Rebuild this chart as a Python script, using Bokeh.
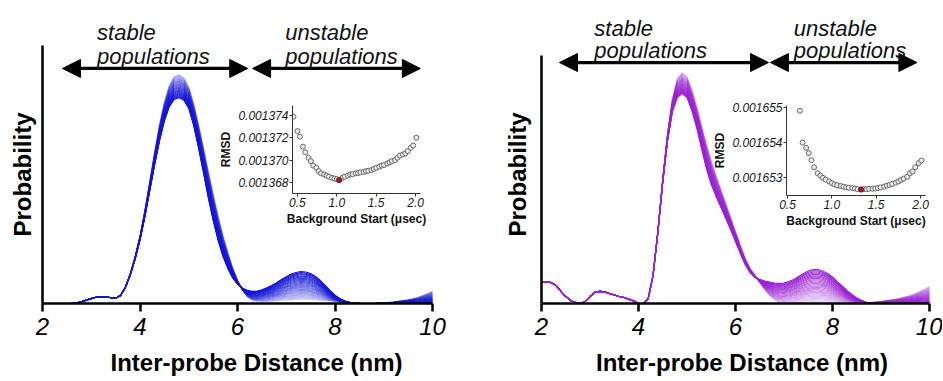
import numpy as np
from bokeh.plotting import figure
from bokeh.models import (Range1d, FixedTicker, Arrow, NormalHead, Label,
                          ColumnDataSource, PrintfTickFormatter)
from bokeh.layouts import row
from bokeh.embed import file_html
from bokeh.resources import INLINE

FONT = "Liberation Sans"

# ---------------- data ----------------
distance_nm = [2.0, 2.1, 2.2, 2.3, 2.4, 2.5, 2.6, 2.7, 2.8, 2.9,
               3.0, 3.1, 3.2, 3.3, 3.4, 3.5, 3.6, 3.7, 3.8, 3.9,
               4.0, 4.1, 4.2, 4.3, 4.4, 4.5, 4.6, 4.7, 4.8, 4.9,
               5.0, 5.1, 5.2, 5.3, 5.4, 5.5, 5.6, 5.7, 5.8, 5.9,
               6.0, 6.1, 6.2, 6.3, 6.4, 6.5, 6.6, 6.7, 6.8, 6.9,
               7.0, 7.1, 7.2, 7.3, 7.4, 7.5, 7.6, 7.7, 7.8, 7.9,
               8.0, 8.1, 8.2, 8.3, 8.4, 8.5, 8.6, 8.7, 8.8, 8.9,
               9.0, 9.1, 9.2, 9.3, 9.4, 9.5, 9.6, 9.7, 9.8, 9.9, 10.0]

# left panel: extreme distributions of the family (earliest / latest background start)
left_dist_first = [0, 0, 0, 0, 0, 0, 0.001, 0.003, 0.007, 0.013,
                   0.019, 0.024, 0.027, 0.026, 0.022, 0.020, 0.031, 0.062, 0.110, 0.172,
                   0.246, 0.336, 0.436, 0.537, 0.630, 0.707, 0.762, 0.791, 0.798, 0.788,
                   0.756, 0.690, 0.603, 0.508, 0.410, 0.322, 0.246, 0.183, 0.136, 0.099,
                   0.075, 0.059, 0.051, 0.047, 0.048, 0.053, 0.061, 0.070, 0.081, 0.093,
                   0.104, 0.114, 0.120, 0.124, 0.122, 0.116, 0.105, 0.089, 0.070, 0.050,
                   0.032, 0.019, 0.010, 0.004, 0.001, 0, 0, 0, 0, 0,
                   0, 0, 0, 0, 0, 0, 0, 0, 0, 0, 0]
left_dist_last = [0, 0, 0, 0, 0, 0, 0.001, 0.003, 0.007, 0.013,
                  0.019, 0.024, 0.027, 0.026, 0.022, 0.020, 0.031, 0.063, 0.115, 0.182,
                  0.262, 0.362, 0.474, 0.588, 0.694, 0.782, 0.845, 0.880, 0.888, 0.875,
                  0.840, 0.776, 0.696, 0.607, 0.515, 0.426, 0.342, 0.266, 0.200, 0.140,
                  0.090, 0.052, 0.026, 0.013, 0.009, 0.008, 0.008, 0.009, 0.011, 0.013,
                  0.014, 0.015, 0.016, 0.017, 0.017, 0.016, 0.015, 0.013, 0.012, 0.010,
                  0.008, 0.006, 0.004, 0.003, 0.002, 0.001, 0, 0, 0, 0.001,
                  0.002, 0.004, 0.006, 0.009, 0.012, 0.015, 0.019, 0.024, 0.031, 0.039, 0.047]

# right panel
right_dist_first = [0.081, 0.085, 0.081, 0.070, 0.047, 0.027, 0.012, 0.004, 0.000, 0.008,
                    0.027, 0.043, 0.047, 0.045, 0.039, 0.033, 0.027, 0.023, 0.017, 0.010,
                    0.000, 0.000, 0.019, 0.109, 0.275, 0.469, 0.632, 0.744, 0.798, 0.814,
                    0.798, 0.748, 0.682, 0.601, 0.523, 0.461, 0.415, 0.372, 0.329, 0.287,
                    0.240, 0.194, 0.151, 0.120, 0.101, 0.093, 0.087, 0.083, 0.079, 0.078,
                    0.079, 0.085, 0.093, 0.105, 0.116, 0.126, 0.132, 0.132, 0.126, 0.116,
                    0.103, 0.085, 0.068, 0.050, 0.035, 0.021, 0.012, 0.004, 0, 0,
                    0, 0, 0, 0, 0, 0, 0, 0, 0, 0, 0]
right_dist_last = [0.081, 0.085, 0.081, 0.070, 0.047, 0.027, 0.012, 0.004, 0.000, 0.008,
                   0.027, 0.043, 0.047, 0.045, 0.039, 0.033, 0.027, 0.023, 0.017, 0.010,
                   0.000, 0.000, 0.019, 0.109, 0.283, 0.484, 0.663, 0.795, 0.872, 0.895,
                   0.880, 0.829, 0.764, 0.690, 0.620, 0.554, 0.496, 0.442, 0.388, 0.333,
                   0.279, 0.225, 0.174, 0.136, 0.109, 0.081, 0.054, 0.031, 0.014, 0.004,
                   0.002, 0.003, 0.004, 0.005, 0.006, 0.007, 0.008, 0.008, 0.008, 0.007,
                   0.006, 0.005, 0.004, 0.003, 0.002, 0.002, 0.002, 0.003, 0.004, 0.006,
                   0.008, 0.011, 0.014, 0.017, 0.021, 0.026, 0.031, 0.038, 0.047, 0.056, 0.066]

# position of each plotted distribution between the first and the last one
family_levels = [0.0, 0.04, 0.08, 0.12, 0.16, 0.20, 0.24, 0.28, 0.32, 0.36,
                 0.40, 0.44, 0.48, 0.52, 0.56, 0.60, 0.64, 0.68, 0.72, 0.76,
                 0.80, 0.84, 0.88, 0.92, 0.96, 1.0]

# insets: RMSD vs background start
left_bg_start = [0.45, 0.50, 0.53, 0.57, 0.60, 0.64, 0.67, 0.70, 0.74, 0.77,
                 0.80, 0.84, 0.87, 0.90, 0.94, 0.97, 1.00, 1.03, 1.07, 1.10,
                 1.14, 1.17, 1.20, 1.24, 1.27, 1.30, 1.34, 1.37, 1.40, 1.44,
                 1.47, 1.50, 1.54, 1.57, 1.60, 1.64, 1.67, 1.70, 1.74, 1.77,
                 1.80, 1.84, 1.87, 1.90, 1.94, 1.97, 2.01]
left_rmsd = [0.0013739, 0.0013726, 0.0013721, 0.0013712, 0.0013707, 0.0013702,
             0.0013699, 0.0013695, 0.0013693, 0.0013690, 0.0013688, 0.0013687,
             0.0013686, 0.0013685, 0.0013684, 0.00136833, 0.00136828, 0.0013682,
             0.0013684, 0.0013685, 0.0013686, 0.0013687, 0.00136873, 0.0013688,
             0.00136883, 0.0013689, 0.00136893, 0.0013690, 0.00136903, 0.0013691,
             0.0013692, 0.0013693, 0.0013694, 0.0013695, 0.00136955, 0.0013697,
             0.0013698, 0.0013699, 0.0013700, 0.0013702, 0.0013704, 0.0013705,
             0.0013706, 0.0013708, 0.0013711, 0.0013713, 0.0013720]
right_bg_start = [0.64, 0.67, 0.71, 0.74, 0.77, 0.80, 0.84, 0.87, 0.90, 0.93,
                  0.97, 1.00, 1.03, 1.06, 1.10, 1.13, 1.16, 1.19, 1.23, 1.26,
                  1.29, 1.33, 1.36, 1.39, 1.42, 1.46, 1.49, 1.52, 1.55, 1.59,
                  1.62, 1.65, 1.68, 1.72, 1.75, 1.78, 1.81, 1.85, 1.88, 1.91,
                  1.94, 1.98, 2.01]
right_rmsd = [0.0016549, 0.0016540, 0.00165385, 0.0016537, 0.0016535, 0.0016533,
              0.00165313, 0.00165306, 0.00165300, 0.00165295, 0.00165290, 0.00165285,
              0.00165281, 0.00165279, 0.00165277, 0.00165275, 0.00165273, 0.00165272,
              0.00165271, 0.00165270, 0.00165268, 0.00165267, 0.00165268, 0.00165268,
              0.00165269, 0.00165269, 0.00165270, 0.00165271, 0.00165273, 0.00165275,
              0.00165278, 0.00165280, 0.00165283, 0.00165286, 0.00165290, 0.00165294,
              0.00165298, 0.00165303, 0.00165313, 0.00165318, 0.00165330, 0.00165342,
              0.00165349]

x_ticks = [2, 4, 6, 8, 10]
left_inset_yticks = [0.001368, 0.001370, 0.001372, 0.001374]
right_inset_yticks = [0.001653, 0.001654, 0.001655]
inset_xticks = [0.5, 1.0, 1.5, 2.0]

region_labels = ["stable", "populations", "unstable", "populations"]

# Bokeh aligns the top/bottom borders of all plots in a row -> shared values
TOP = 45
BOTTOM = 77
MAIN_H = 380
PX_PER_UNIT_Y = 258.0          # main frame height for y 0..1
STRIP_SHIFT = 37               # strip frame starts 37 px above main frame top
STRIP_FRAME_H = 72


def style_text_axis(ax, size, style):
    ax.major_label_text_font = FONT
    ax.major_label_text_font_size = size
    ax.major_label_text_font_style = style


# ---------------- helpers ----------------
def main_panel(width, border_left, px_per_nm, first, last, color, axis_top,
               title_standoff):
    x_end = 2 + (width - border_left) / px_per_nm
    p = figure(width=width, height=MAIN_H, x_range=Range1d(2, x_end),
               y_range=Range1d(0, 1.0), output_backend="svg",
               toolbar_location=None, min_border_left=border_left,
               min_border_right=0, min_border_top=TOP,
               min_border_bottom=BOTTOM)
    p.grid.visible = False
    p.outline_line_color = None
    p.border_fill_alpha = 0

    xa = p.xaxis[0]
    xa.ticker = FixedTicker(ticks=x_ticks)
    xa.bounds = (2, 10)
    xa.axis_line_width = 2.5
    xa.axis_line_color = "black"
    xa.major_tick_line_width = 2.5
    xa.major_tick_out = 8
    xa.major_tick_in = 0
    xa.minor_tick_line_color = None
    style_text_axis(xa, "24px", "italic")
    xa.major_label_text_color = "black"
    xa.major_label_standoff = 6
    xa.axis_label = "Inter-probe Distance (nm)"
    xa.axis_label_text_font = FONT
    xa.axis_label_text_font_size = "24px"
    xa.axis_label_text_font_style = "bold"
    xa.axis_label_text_color = "black"
    xa.axis_label_standoff = 11

    ya = p.yaxis[0]
    ya.ticker = FixedTicker(ticks=[])
    ya.bounds = (0, axis_top)
    ya.axis_line_width = 2.5
    ya.axis_line_color = "black"
    ya.major_tick_out = 0
    ya.minor_tick_out = 0
    ya.axis_label = "Probability"
    ya.axis_label_text_font = FONT
    ya.axis_label_text_font_size = "24px"
    ya.axis_label_text_font_style = "bold"
    ya.axis_label_text_color = "black"
    ya.axis_label_standoff = title_standoff

    f = np.asarray(first, dtype=float)
    l = np.asarray(last, dtype=float)
    xs, ys, alphas = [], [], []
    for lev in reversed(family_levels):
        xs.append(distance_nm)
        ys.append(list(f + (l - f) * lev))
        alphas.append(1.0 - 0.78 * lev)
    src = ColumnDataSource(dict(xs=xs, ys=ys, a=alphas))
    p.multi_line("xs", "ys", source=src, line_color=color, line_alpha="a",
                 line_width=1.1)
    return p


def strip_panel(width, border_left, px_per_nm, arrows, text_x, text_y):
    """Transparent overlay above the main frame for the arrows and labels."""
    x_end = 2 + (width - border_left) / px_per_nm
    y_top = 1.0 + STRIP_SHIFT / PX_PER_UNIT_Y
    y_bot = y_top - STRIP_FRAME_H / PX_PER_UNIT_Y
    s = figure(width=width, height=TOP + STRIP_FRAME_H + BOTTOM,
               x_range=Range1d(2, x_end), y_range=Range1d(y_bot, y_top),
               output_backend="svg", toolbar_location=None,
               x_axis_location=None, y_axis_location=None,
               min_border_left=border_left, min_border_right=0,
               min_border_top=TOP, min_border_bottom=BOTTOM,
               background_fill_alpha=0, border_fill_alpha=0)
    s.grid.visible = False
    s.outline_line_color = None
    for (x0, x1, yy) in arrows:
        s.add_layout(Arrow(
            start=NormalHead(size=18, fill_color="black", line_color="black"),
            end=NormalHead(size=18, fill_color="black", line_color="black"),
            x_start=x0, y_start=yy, x_end=x1, y_end=yy,
            line_width=3.2, line_color="black"))
    for txt, tx, ty in zip(region_labels, text_x, text_y):
        s.add_layout(Label(x=tx, y=ty, text=txt, text_font=FONT,
                           text_font_size="22px", text_font_style="italic",
                           text_color="#111111", text_align="left",
                           text_baseline="alphabetic"))
    return s


def inset_panel(width, frame_h, border_left, border_right, xr, yr, yticks,
                bg, rmsd):
    q = figure(width=width, height=TOP + frame_h + BOTTOM, x_range=Range1d(*xr),
               y_range=Range1d(*yr), output_backend="svg",
               toolbar_location=None, min_border_left=border_left,
               min_border_right=border_right, min_border_top=TOP,
               min_border_bottom=BOTTOM, background_fill_alpha=0,
               border_fill_alpha=0)
    q.grid.visible = False
    q.outline_line_color = None
    for ax, ticks, fmt in ((q.xaxis[0], inset_xticks, "%.1f"),
                           (q.yaxis[0], yticks, "%.6f")):
        ax.ticker = FixedTicker(ticks=ticks)
        ax.formatter = PrintfTickFormatter(format=fmt)
        ax.axis_line_width = 1
        ax.axis_line_color = "#333333"
        ax.major_tick_line_color = "#333333"
        ax.major_tick_out = 3
        ax.major_tick_in = 0
        ax.minor_tick_line_color = None
        style_text_axis(ax, "12px", "italic")
        ax.major_label_text_color = "#1a1a1a"
        ax.major_label_standoff = 1
        ax.axis_label_text_font = FONT
        ax.axis_label_text_font_size = "12px"
        ax.axis_label_text_font_style = "bold"
        ax.axis_label_text_color = "#111111"
        ax.axis_label_standoff = 2
    q.xaxis[0].axis_label = "Background Start (\u03bcsec)"
    q.yaxis[0].axis_label = "RMSD"

    q.scatter(bg, rmsd, marker="circle", size=5, fill_color="#ececec",
              line_color="#5a5a5a", line_width=0.9)
    best = int(np.argmin(rmsd))
    q.scatter([bg[best]], [rmsd[best]], marker="circle", size=5,
              fill_color="#b0122c", line_color="#6a0a1a", line_width=0.9)
    return q


# ---------------- build ----------------
left_arrows = [(2.41, 6.21, 0.911), (6.31, 9.75, 0.911)]
right_arrows = [(2.37, 6.68, 0.934), (6.72, 9.74, 0.934)]

left_main = main_panel(470, 42, 48.75, left_dist_first, left_dist_last,
                       "#1515d6", 1.0, 7)
left_strip = strip_panel(470, 42, 48.75, left_arrows,
                         [3.12, 3.12, 6.98, 6.98], [1.050, 0.957, 1.050, 0.957])
right_main = main_panel(472, 71, 48.5, right_dist_first, right_dist_last,
                        "#9a22d4", 0.961, 11)
right_strip = strip_panel(472, 71, 48.5, right_arrows,
                          [3.09, 3.09, 7.2, 7.2], [1.066, 0.981, 1.066, 0.981])

left_inset = inset_panel(216, 88, 74, 12, (0.4375, 2.0625),
                         (0.00136699, 0.0013749), left_inset_yticks,
                         left_bg_start, left_rmsd)
right_inset = inset_panel(227, 90, 76, 12, (0.4887, 2.0558),
                          (0.0016525, 0.00165505), right_inset_yticks,
                          right_bg_start, right_rmsd)

left_main.margin = (0, 0, 0, 0)
left_strip.margin = (-STRIP_SHIFT, 0, 0, -470)
left_inset.margin = (105 - TOP, 38, 0, -254)
right_main.margin = (0, 0, 0, 0)
right_strip.margin = (-STRIP_SHIFT, 0, 0, -472)
right_inset.margin = (105 - TOP, 5, 0, -232)

layout = row(left_main, left_strip, left_inset,
             right_main, right_strip, right_inset)

open("out.html", "w").write(file_html(layout, INLINE))
